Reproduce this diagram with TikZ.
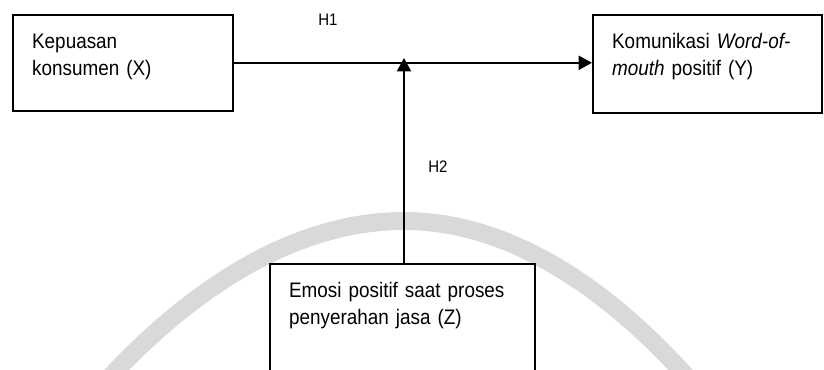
\documentclass[tikz,border=0pt]{standalone}
\usepackage{fontspec}
\setmainfont{Liberation Sans}[FakeStretch=0.9]
\usetikzlibrary{arrows.meta}

\begin{document}
\begin{tikzpicture}[x=0.75pt,y=-0.75pt,
		kotak/.style={draw,line width=1.2pt,fill=white,anchor=north west,align=left,
			inner xsep=14.5pt,inner ysep=0pt,text height=25.5pt,
			font=\fontsize{15.75}{20.25}\selectfont},
		panah/.style={line width=1.6pt,-{Triangle[length=10pt,width=10.5pt]}},
		hipotesis/.style={anchor=base west,inner sep=0pt,font=\fontsize{12.5}{15}\selectfont}]
		\useasboundingbox (0,0) rectangle (824,369);
		\clip (0,0) rectangle (824,369);
		
		\draw[line width=13.5pt,color=gray!30] (74,418) parabola bend (404,221) (724,421);
		
		\node[kotak,text width=136pt,text depth=46.5pt] (kepuasan) at (12,14) {Kepuasan\\konsumen (X)};
		\node[kotak,text width=143pt,text depth=48pt] (komunikasi) at (592,14) {Komunikasi \textit{Word-of-}\\\textit{mouth} positif (Y)};
		\node[kotak,text width=170pt,text depth=80pt] (emosi) at (269,263) {Emosi positif saat proses\\penyerahan jasa (Z)};
		\node[hipotesis] (h1) at (318,25) {H1};
		\node[hipotesis] (h2) at (428,172) {H2};
		\coordinate (temu) at (404,58);
		
		\draw[panah] (kepuasan.east) -- (kepuasan.east -| komunikasi.west);
		\draw[panah] (emosi.north -| temu) -- (temu);
	\end{tikzpicture}
\end{document}
